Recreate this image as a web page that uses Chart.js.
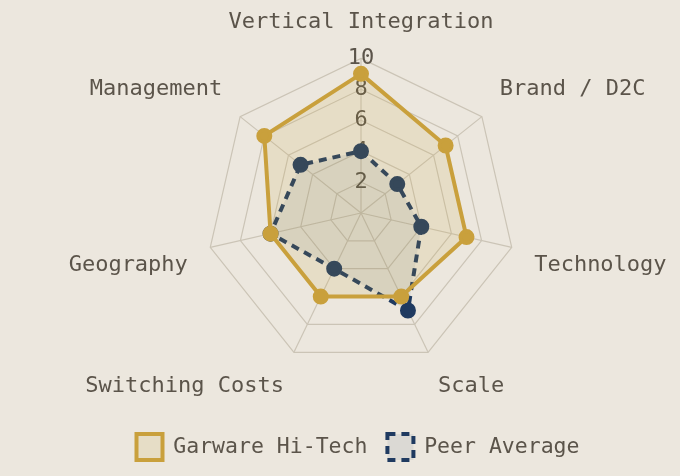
<!DOCTYPE html>
<html lang="en">
<head>
    <meta charset="UTF-8">
    <title>Moat Radar</title>
    <style>
        html, body { margin: 0; padding: 0; background: #ece7de; }
        .wrap { width: 680px; height: 476px; }
    </style>
</head>
<body>
    <div class="wrap">
        <canvas id="myChart"></canvas>
    </div>

    <script src="https://cdn.jsdelivr.net/npm/chart.js"></script>
    <script>
        const categories = ["Vertical Integration", "Brand / D2C", "Technology", "Scale", "Switching Costs", "Geography", "Management"]
        const garware = [9, 7, 7, 6, 6, 6, 8]
        const peerAvg = [4, 3, 4, 7, 4, 6, 5]

        const gold = '#c9a03c'
        const navy = '#1f3a60'
        const textColor = '#5b544a'
        const monoFont = "'DejaVu Sans Mono', monospace"

        const ctx = document.getElementById('myChart')

        // the padding pushes the radar right and up; put the legend back where it was
        const legendShift = {
            id: 'legendShift',
            afterLayout(chart) {
                chart.legend.left -= 10
                chart.legend.right -= 10
                chart.legend.top += 6
                chart.legend.bottom += 6
            }
        }

        let chart = new Chart(ctx, {
            type: 'radar',
            data: {
                labels: categories,
                datasets: [{
                    label: 'Garware Hi-Tech',
                    data: garware,
                    borderColor: gold,
                    backgroundColor: 'rgba(201, 160, 60, 0.14)',
                    borderWidth: 4,
                    pointBackgroundColor: gold,
                    pointBorderColor: gold,
                    pointRadius: 6,
                    fill: true
                }, {
                    label: 'Peer Average',
                    data: peerAvg,
                    borderColor: navy,
                    backgroundColor: 'rgba(31, 58, 96, 0.08)',
                    borderWidth: 4,
                    borderDash: [8, 6],
                    pointBackgroundColor: navy,
                    pointBorderColor: navy,
                    pointRadius: 6,
                    fill: true
                }]
            },
            options: {
                responsive: true,
                maintainAspectRatio: false,
                animation: false,
                layout: {
                    padding: { top: 0, bottom: 12, left: 56, right: 0 }
                },
                scales: {
                    r: {
                        min: 0,
                        max: 10,
                        ticks: {
                            stepSize: 2,
                            color: textColor,
                            showLabelBackdrop: false,
                            font: { family: monoFont, size: 22 }
                        },
                        grid: { color: '#cbc4b6', lineWidth: 1.2 },
                        angleLines: { color: '#cbc4b6', lineWidth: 1.2 },
                        pointLabels: {
                            color: textColor,
                            padding: 10,
                            font: { family: monoFont, size: 22 }
                        }
                    }
                },
                plugins: {
                    legend: {
                        position: 'bottom',
                        labels: {
                            color: textColor,
                            boxWidth: 26,
                            boxHeight: 26,
                            padding: 20,
                            font: { family: monoFont, size: 21.5 }
                        }
                    },
                    tooltip: { enabled: false }
                }
            },
            plugins: [legendShift]
        })
    </script>
</body>
</html>
